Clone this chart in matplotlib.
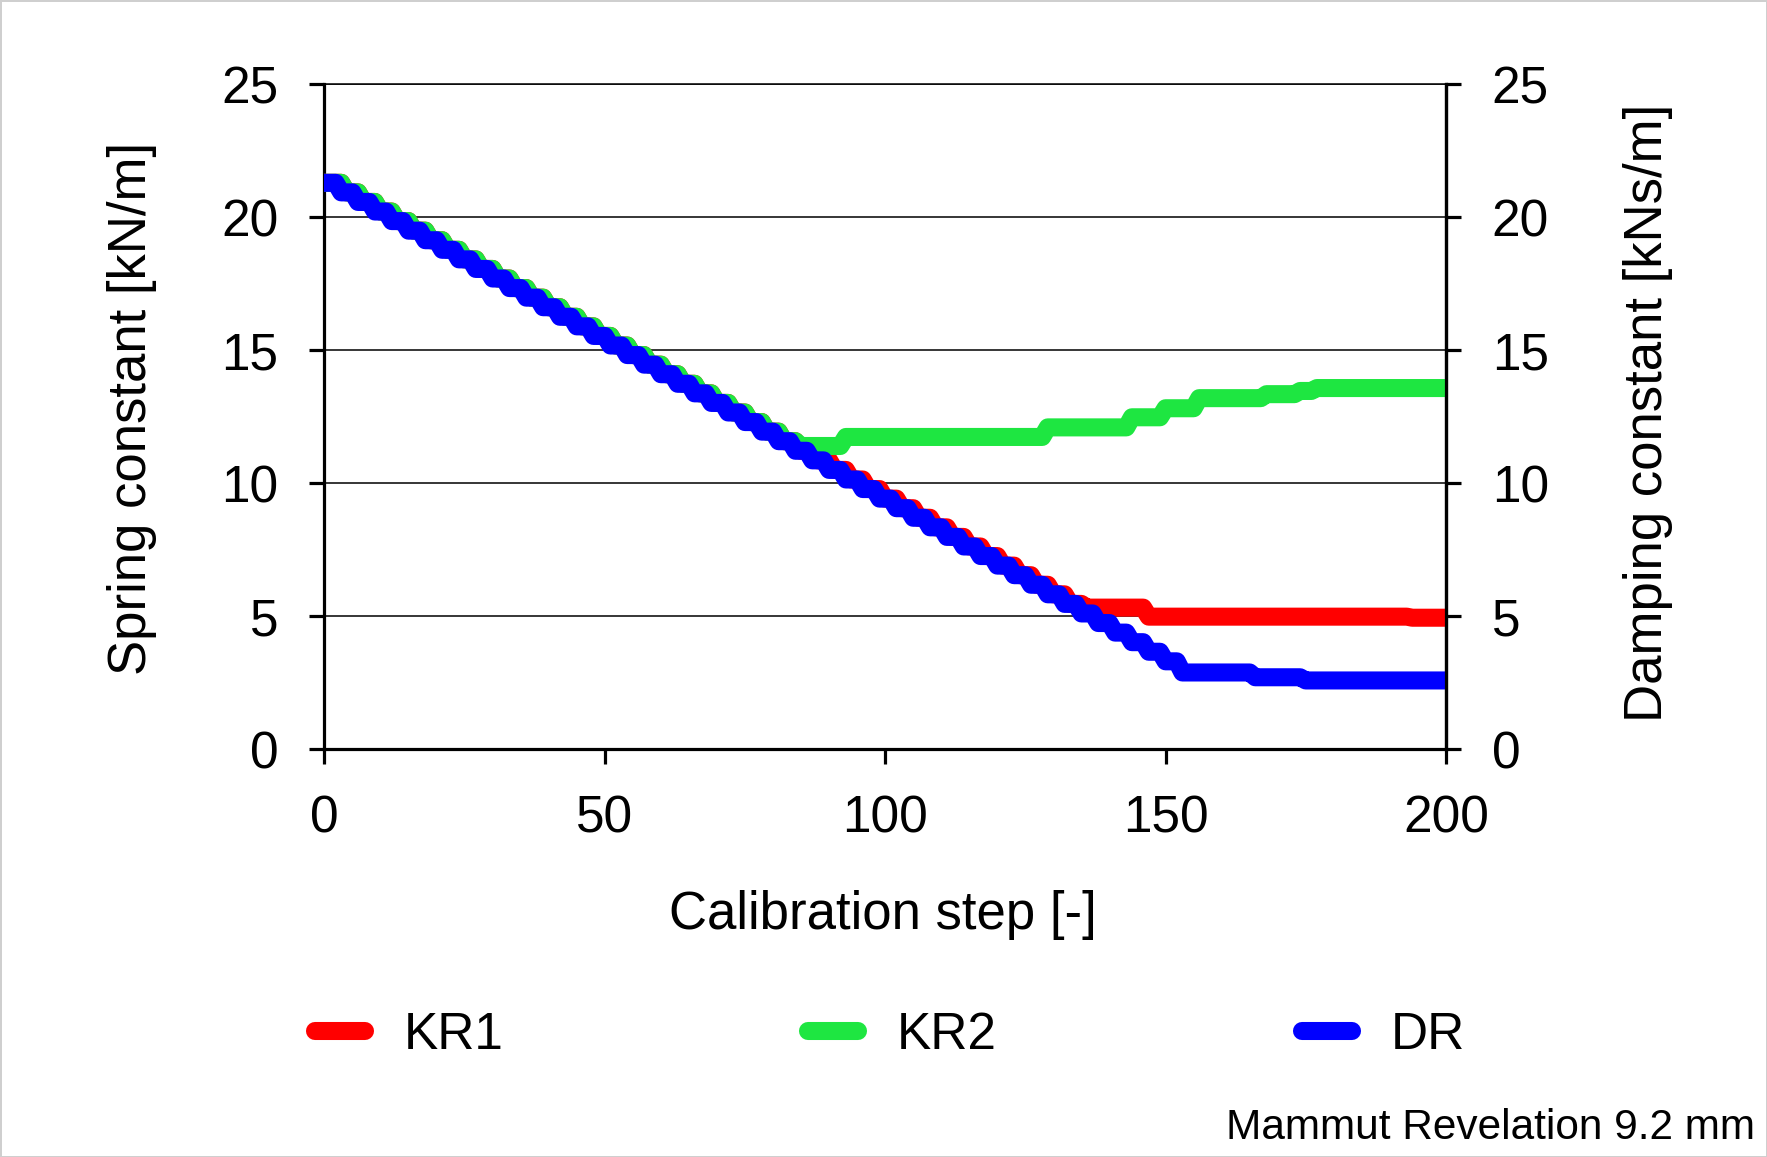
import numpy as np
import matplotlib
matplotlib.use("Agg")
import matplotlib.pyplot as plt

plt.rcParams["font.family"] = ["Liberation Sans", "DejaVu Sans"]

# Values. The calibration holds each value for a few steps,
# so every series is stored as plateau values + how many steps each plateau lasts.
DESCENT = [21.30, 20.94, 20.58, 20.22, 19.86, 19.50, 19.14, 18.78, 18.42, 18.06,
           17.70, 17.34, 16.98, 16.62, 16.26, 15.90, 15.54, 15.18, 14.82, 14.46,
           14.10, 13.74, 13.38, 13.02, 12.66, 12.30, 11.94, 11.58, 11.22, 10.86,
           10.50, 10.14, 9.78, 9.42, 9.06, 8.70, 8.34, 7.98, 7.62, 7.26,
           6.90, 6.54, 6.18, 5.82, 5.46, 5.10, 4.74, 4.38, 4.02, 3.66,
           3.30]

KR1_VALUES = DESCENT[:45] + [5.32, 4.98, 4.94]
KR1_LENGTHS = [4] + [3] * 44 + [11, 47, 7]

KR2_VALUES = DESCENT[:28] + [11.40, 11.74, 12.10, 12.48, 12.82, 13.20, 13.35, 13.47, 13.58]
KR2_LENGTHS = [4] + [3] * 27 + [8, 36, 15, 6, 6, 12, 6, 3, 24]

DR_VALUES = DESCENT[:51] + [2.88, 2.70, 2.58]
DR_LENGTHS = [3] * 51 + [13, 9, 26]

SERIES = [
    ("KR1", KR1_VALUES, KR1_LENGTHS, "#ff0000"),
    ("KR2", KR2_VALUES, KR2_LENGTHS, "#1ee641"),
    ("DR", DR_VALUES, DR_LENGTHS, "#0000ff"),
]

X_TICKS = [0, 50, 100, 150, 200]
Y_TICKS = [0, 5, 10, 15, 20, 25]

FS = 38

fig = plt.figure(figsize=(17.67, 11.57), dpi=100)
fig.patch.set_edgecolor("#cfcfcf")
fig.patch.set_linewidth(2)

ax = fig.add_axes([0.1836, 0.3526, 0.6347, 0.5744])

for name, vals, lens, color in SERIES:
    y = np.repeat(vals, lens)
    x = np.arange(len(y))
    ax.plot(x, y, color=color, linewidth=13, label=name,
            solid_capstyle="round", solid_joinstyle="round", zorder=3)

ax.set_xlim(0, 200)
ax.set_ylim(0, 25)
ax.set_xticks(X_TICKS)
ax.set_yticks(Y_TICKS)
ax.grid(axis="y", color="black", linewidth=1.1)
ax.set_axisbelow(True)

for side in ["left", "bottom"]:
    ax.spines[side].set_linewidth(2.3)
ax.spines["top"].set_linewidth(1.1)
ax.spines["right"].set_linewidth(2.3)
ax.tick_params(direction="out", length=11, width=2.3, labelsize=FS - 1)
ax.tick_params(axis="x", pad=22)
ax.tick_params(axis="y", pad=22)

ax.set_xlabel("Calibration step [-]", fontsize=FS)
ax.xaxis.set_label_coords(0.498, -0.249)
ax.xaxis.label.set_va("center")
ax.set_ylabel("Spring constant [kN/m]", fontsize=FS)
ax.yaxis.set_label_coords(-0.1716, 0.513)
ax.yaxis.label.set_va("center")

ax2 = ax.twinx()
ax2.set_ylim(0, 25)
ax2.set_yticks(Y_TICKS)
for side in ["left", "bottom", "top"]:
    ax2.spines[side].set_visible(False)
ax2.spines["right"].set_linewidth(2.3)
ax2.tick_params(direction="out", length=11, width=2.3, labelsize=FS - 1, pad=22)
ax2.set_ylabel("Damping constant [kNs/m]", fontsize=FS)
ax2.yaxis.set_label_coords(1.180, 0.506)
ax2.yaxis.label.set_va("center")

handles, labels = ax.get_legend_handles_labels()
fig.legend(handles, labels, loc="center", bbox_to_anchor=(0.5036, 0.105),
           ncol=3, frameon=False, fontsize=FS - 1, handlelength=0.97,
           handletextpad=0.75, columnspacing=5.94)

fig.text(0.993, 0.0247, "Mammut Revelation 9.2 mm", fontsize=30.5,
         ha="right", va="center")

fig.savefig("out.png", dpi=100)
